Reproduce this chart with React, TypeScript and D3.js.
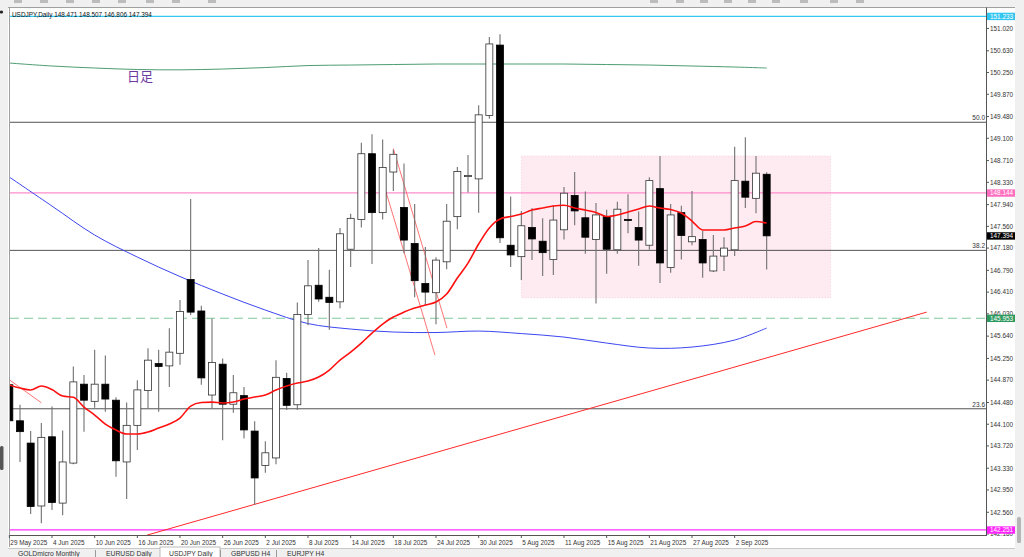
import React from 'react';
import * as d3 from 'd3';

// ---------- DATA ----------
const header = 'USDJPY,Daily  148.471 148.507 146.806 147.394';

const dateTickIdx = [0, 4, 8, 12, 16, 20, 24, 28, 32, 36, 40, 44, 48, 52, 56, 60, 64, 68];
const dateTickLabels = ['29 May 2025', '4 Jun 2025', '10 Jun 2025', '16 Jun 2025', '20 Jun 2025', '26 Jun 2025', '2 Jul 2025', '8 Jul 2025', '14 Jul 2025', '18 Jul 2025', '24 Jul 2025', '30 Jul 2025', '5 Aug 2025', '11 Aug 2025', '15 Aug 2025', '21 Aug 2025', '27 Aug 2025', '2 Sep 2025'];

const priceTicks = [151.02, 150.63, 150.25, 149.87, 149.48, 149.1, 148.71, 148.33, 147.94, 147.56, 147.18, 146.79, 146.41, 146.03, 145.64, 145.25, 144.87, 144.48, 144.1, 143.72, 143.33, 142.95, 142.56, 142.18];

const opens = [144.79, 144.16, 143.77, 142.67, 143.88, 142.72, 143.42, 144.80, 144.50, 144.80, 144.52, 143.44, 144.08, 144.69, 145.16, 145.12, 145.34, 146.63, 146.08, 144.61, 145.15, 144.45, 144.60, 143.98, 143.38, 143.51, 144.90, 144.44, 146.02, 146.53, 146.32, 146.24, 147.16, 147.68, 148.83, 147.80, 148.51, 147.89, 147.26, 146.56, 146.40, 146.94, 147.73, 148.43, 148.39, 149.50, 150.73, 147.23, 147.03, 147.54, 147.30, 146.98, 147.50, 148.10, 147.71, 147.33, 147.73, 147.15, 147.68, 147.54, 147.23, 148.22, 146.84, 147.80, 147.29, 147.33, 146.78, 147.04, 147.15, 148.35, 148.05, 148.471];
const highs = [144.91, 144.44, 143.98, 144.12, 144.41, 143.99, 145.11, 144.96, 145.40, 145.30, 144.57, 144.48, 144.87, 145.43, 145.40, 145.78, 146.27, 148.04, 146.17, 145.95, 145.25, 144.96, 144.75, 144.15, 143.80, 145.22, 145.00, 146.23, 146.97, 147.18, 146.80, 147.53, 147.78, 149.02, 149.17, 149.08, 148.90, 148.66, 147.95, 147.20, 147.02, 147.95, 148.60, 148.81, 149.68, 150.87, 150.92, 148.08, 147.83, 147.88, 147.70, 147.93, 148.25, 148.51, 148.17, 147.97, 147.85, 147.99, 148.12, 147.82, 148.42, 148.79, 147.95, 147.92, 148.18, 147.48, 147.41, 147.37, 148.95, 149.12, 148.79, 148.507];
const lows = [143.97, 143.44, 142.53, 142.37, 142.60, 142.51, 143.40, 143.97, 144.39, 144.32, 143.18, 142.79, 143.65, 144.38, 144.32, 144.75, 145.14, 146.01, 144.79, 144.38, 143.82, 144.30, 143.85, 142.69, 143.25, 143.40, 144.35, 144.35, 145.83, 146.24, 145.75, 146.13, 146.85, 147.54, 146.90, 147.68, 148.18, 147.09, 146.32, 146.18, 145.85, 146.81, 147.51, 148.15, 147.80, 149.44, 147.27, 146.85, 146.62, 146.97, 146.69, 146.71, 147.33, 147.58, 147.08, 146.21, 146.73, 147.08, 147.44, 146.87, 147.15, 146.57, 146.75, 146.98, 147.23, 146.66, 146.76, 146.78, 147.04, 147.88, 147.79, 146.806];
const closes = [144.16, 143.97, 142.66, 143.87, 142.73, 143.44, 144.84, 144.52, 144.80, 144.54, 143.46, 144.08, 144.70, 145.22, 145.11, 145.36, 146.07, 146.06, 144.91, 145.18, 144.45, 144.65, 144.00, 143.16, 143.60, 144.92, 144.43, 146.02, 146.52, 146.29, 146.23, 147.43, 147.70, 148.83, 147.80, 148.59, 148.82, 147.32, 146.61, 146.41, 146.97, 147.65, 148.52, 148.45, 149.51, 150.75, 147.36, 147.06, 147.57, 147.34, 147.10, 147.67, 148.14, 147.83, 147.37, 147.76, 147.16, 147.86, 147.67, 147.32, 148.36, 146.92, 147.76, 147.40, 147.38, 146.92, 147.04, 147.18, 148.36, 148.07, 148.49, 147.394];

// red moving average (one value per bar)
const maRed = [144.785, 144.732, 144.697, 144.767, 144.706, 144.592, 144.570, 144.400, 144.260, 144.103, 143.998, 143.928, 143.928, 143.963, 144.033, 144.103, 144.208, 144.417, 144.479, 144.487, 144.470, 144.487, 144.540, 144.575, 144.610, 144.697, 144.767, 144.820, 144.855, 144.925, 145.047, 145.222, 145.362, 145.519, 145.694, 145.852, 145.974, 146.061, 146.131, 146.184, 146.236, 146.376, 146.656, 146.918, 147.251, 147.531, 147.688, 147.732, 147.775, 147.845, 147.880, 147.915, 147.928, 147.880, 147.845, 147.802, 147.732, 147.758, 147.810, 147.863, 147.915, 147.880, 147.854, 147.793, 147.653, 147.496, 147.496, 147.496, 147.531, 147.566, 147.644, 147.618];

// blue and green moving averages (sampled bars)
const maSampleIdx = [0, 4, 8, 12, 16, 20, 24, 28, 32, 36, 40, 44, 48, 52, 56, 60, 64, 68, 71];
const maBlue = [148.422, 147.915, 147.408, 147.023, 146.682, 146.376, 146.096, 145.860, 145.764, 145.712, 145.703, 145.729, 145.685, 145.624, 145.519, 145.432, 145.449, 145.572, 145.782];
const maGreen = [150.416, 150.364, 150.329, 150.303, 150.297, 150.311, 150.337, 150.372, 150.381, 150.390, 150.399, 150.399, 150.399, 150.399, 150.390, 150.381, 150.364, 150.346, 150.329];

const fibLevels = [149.38, 147.14, 144.37];
const fibLabels = ['50.0', '38.2', '23.6'];

const hLinePrices = [151.233, 148.144, 145.953, 142.251];
const hLineColors = ['#33c6f0', '#ff8ccc', '#7fc99a', '#ff33ff'];
const hLineBadgeColors = ['#33c6f0', '#ff6fbf', '#2f9a5e', '#ff22ff'];
const lastPrice = 147.394;

// range rectangle (bar index range and price range)
const boxIdx = [48, 77];
const boxPrice = [148.79, 146.31];

// trend lines: [idx1, price1, idx2, price2]
const trendMain = [12.9, 142.16, 86, 146.06];
const trendSmall = [
  [-0.1, 144.89, 3, 144.475],
  [35.06, 148.32, 39.9, 145.31],
  [36.0, 148.92, 41.03, 145.78],
];

const tabs = ['GOLDmicro Monthly', 'EURUSD Daily', 'USDJPY Daily', 'GBPUSD H4', 'EURJPY H4'];

// ---------- CHART ----------
const W = 1024;
const H = 557;
const L = 10, R = 986, T = 8, B = 535;
const FONT = 'Liberation Sans, Arial, sans-serif';

export default function App() {
  const x = d3.scaleLinear().domain([0, 71]).range([9.33, 766.67]);
  const y = d3.scaleLinear().domain([142.18, 151.02]).range([534, 28.5]);
  const bw = 7;

  const redLine = d3.line<number>().x((_, i) => x(i)).y((d) => y(d)).curve(d3.curveMonotoneX)(maRed) || '';
  const sampled = (vals: number[]) =>
    d3.line<number>().x((_, i) => x(maSampleIdx[i])).y((d) => y(d)).curve(d3.curveCatmullRom)(vals) || '';

  const tabX = [12, 100, 163, 225, 281];
  const tabW = [86, 61, 60, 54, 52];

  return (
    <svg width={W} height={H} style={{ position: 'absolute', left: 0, top: 0, background: '#fff' }} fontFamily={FONT}>
      <defs>
        <clipPath id="plot">
          <rect x={L} y={T} width={R - L} height={B - T} />
        </clipPath>
      </defs>
      <rect x={0} y={0} width={W} height={H} fill="#fff" />
      {/* toolbar strip */}
      <rect x={0} y={0} width={W} height={7} fill="#f0f0f0" />
      {[14, 40, 66, 92, 118, 146, 172, 208, 650, 676, 700, 724, 748, 772, 800, 830, 856].map((tx, k) => (
        <rect key={k} x={tx} y={0} width={8} height={3} fill="#9a9a9a" opacity={0.6} />
      ))}
      {/* left strip */}
      <rect x={0} y={7} width={8} height={H - 7} fill="#f0f0f0" />
      <circle cx={1.5} cy={12} r={1.6} fill="#222" />
      <rect x={0} y={446} width={3.5} height={24} rx={1.5} fill="#555" />
      {/* right strip */}
      <rect x={1015} y={7} width={9} height={H - 7} fill="#f0f0f0" />
      <rect x={1017} y={517} width={4} height={26} rx={1.5} fill="#b5b5b5" />

      {/* frame */}
      <line x1={8} x2={1015} y1={7.5} y2={7.5} stroke="#a0a0a0" />
      <line x1={9.5} x2={9.5} y1={7.5} y2={547} stroke="#a0a0a0" />

      <g clipPath="url(#plot)">
        {/* range box */}
        <rect x={x(boxIdx[0])} y={y(boxPrice[0])} width={x(boxIdx[1]) - x(boxIdx[0])} height={y(boxPrice[1]) - y(boxPrice[0])}
          fill="#fdebf1" stroke="#f7cfe0" strokeDasharray="1,2" />
        {/* horizontal lines */}
        {fibLevels.map((p, k) => (
          <line key={'f' + k} x1={L} x2={R} y1={y(p)} y2={y(p)} stroke="#404040" strokeWidth={0.9} />
        ))}
        {hLinePrices.map((p, k) => (
          <line key={'h' + k} x1={L} x2={R} y1={y(p)} y2={y(p)} stroke={hLineColors[k]} strokeWidth={k === 2 ? 1.1 : 1.2}
            strokeDasharray={k === 2 ? '9,5' : undefined} />
        ))}
        {/* green MA */}
        <path d={sampled(maGreen)} fill="none" stroke="#4c9d72" strokeWidth={1} />
        {/* blue MA */}
        <path d={sampled(maBlue)} fill="none" stroke="#3c46f0" strokeWidth={1} />
        {/* trend lines */}
        <line x1={x(trendMain[0])} y1={y(trendMain[1])} x2={x(trendMain[2])} y2={y(trendMain[3])} stroke="#ff2a2a" strokeWidth={1} />
        {trendSmall.map((t, k) => (
          <line key={'t' + k} x1={x(t[0])} y1={y(t[1])} x2={x(t[2])} y2={y(t[3])} stroke="#ff5050" strokeWidth={0.8} />
        ))}
        {/* candles */}
        {opens.map((o, i) => {
          const c = closes[i];
          const bull = c >= o;
          const top = y(Math.max(o, c));
          const bot = y(Math.min(o, c));
          const cx = x(i);
          return (
            <g key={i}>
              <line x1={cx} x2={cx} y1={y(highs[i])} y2={y(lows[i])} stroke="#707070" strokeWidth={1.1} />
              <rect x={cx - bw / 2} y={top} width={bw} height={Math.max(bot - top, 1)}
                fill={bull ? '#fff' : '#000'} stroke={bull ? '#333' : '#000'} strokeWidth={0.8} />
            </g>
          );
        })}
        {/* red MA */}
        <path d={redLine} fill="none" stroke="#ff1010" strokeWidth={1.6} />
        {/* fib labels */}
        {fibLevels.map((p, k) => (
          <text key={'fl' + k} x={R - 1} y={y(p) - 2} textAnchor="end" fontSize={6.5} fill="#333">{fibLabels[k]}</text>
        ))}
        <text x={127} y={81} fontSize={13} fill="#6c3aa0" fontFamily="Noto Sans CJK JP, sans-serif">日足</text>
        <text x={12} y={17} fontSize={6.4} fill="#111">{header}</text>
      </g>

      {/* bottom border and right axis */}
      <line x1={L} x2={R} y1={B + 0.5} y2={B + 0.5} stroke="#555" />
      <line x1={R + 0.5} x2={R + 0.5} y1={7.5} y2={B + 1} stroke="#555" />

      {/* price axis */}
      {priceTicks.map((p, k) => (
        <g key={'pt' + k}>
          <line x1={R} x2={R + 3} y1={y(p)} y2={y(p)} stroke="#555" />
          <text x={990} y={y(p) + 2.3} fontSize={6.4} fill="#333">{p.toFixed(3)}</text>
        </g>
      ))}
      {hLinePrices.map((p, k) => (
        <g key={'b' + k}>
          <rect x={987} y={y(p) - 3.6} width={28} height={7.4} fill={hLineBadgeColors[k]} />
          <text x={990} y={y(p) + 2.3} fontSize={6.4} fill="#fff">{p.toFixed(3)}</text>
        </g>
      ))}
      <rect x={987} y={y(lastPrice) - 3.6} width={28} height={7.4} fill="#000" />
      <text x={990} y={y(lastPrice) + 2.3} fontSize={6.4} fill="#fff">{lastPrice.toFixed(3)}</text>

      {/* date axis */}
      {dateTickIdx.map((idx, k) => (
        <g key={'d' + k}>
          <line x1={x(idx)} x2={x(idx)} y1={B} y2={B + 3} stroke="#555" />
          <text x={x(idx) + 1} y={544.6} fontSize={6.4} fill="#333">{dateTickLabels[k]}</text>
        </g>
      ))}

      {/* tab bar */}
      <rect x={8} y={548} width={1007} height={9} fill="#f0f0f0" />
      <line x1={8} x2={1015} y1={548.5} y2={548.5} stroke="#c8c8c8" />
      {tabs.map((t, k) => (
        <g key={'tab' + k}>
          {k === 2 && <rect x={tabX[k] - 3} y={547} width={tabW[k]} height={11} fill="#fff" stroke="#bbb" />}
          {k !== 2 && k > 0 && <line x1={tabX[k] - 4.5} x2={tabX[k] - 4.5} y1={550} y2={557} stroke="#999" />}
          <text x={tabX[k] + 6} y={556} fontSize={6.8} fill="#333">{t}</text>
        </g>
      ))}
    </svg>
  );
}
